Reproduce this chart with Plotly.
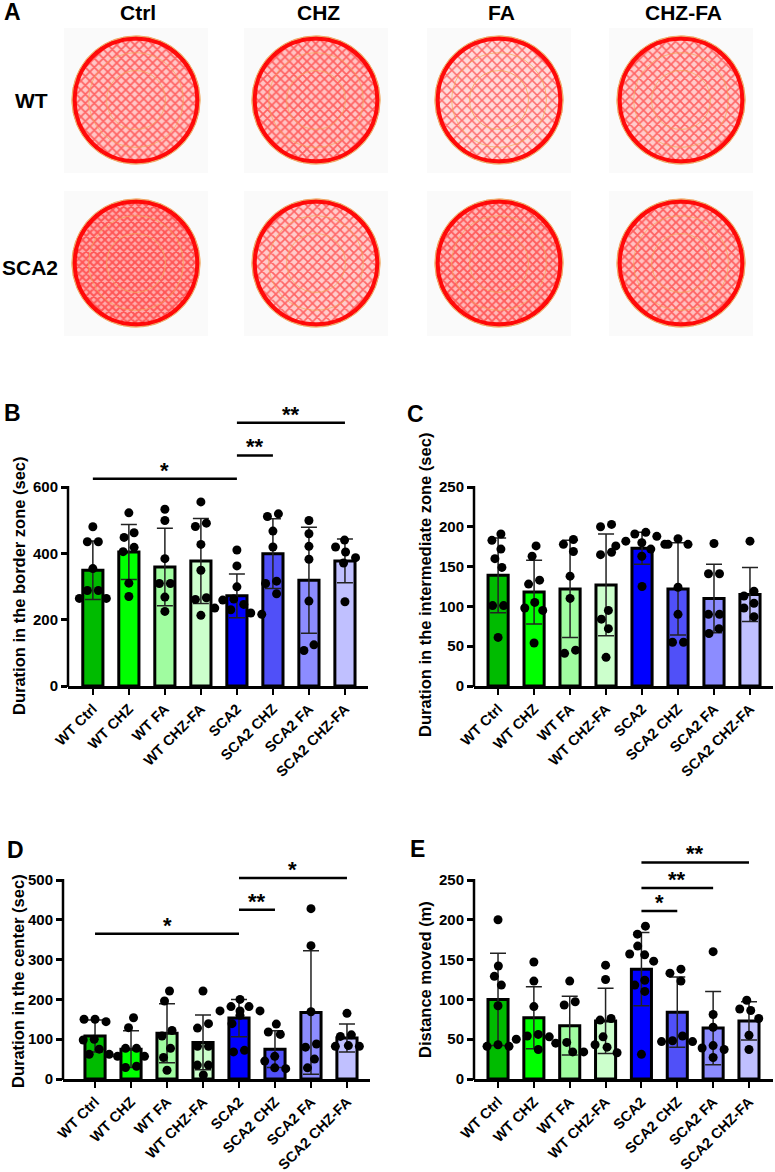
import numpy as np
import plotly.graph_objects as go

W, H = 775, 1172
FONT = "Liberation Sans"

# ---------------- data ----------------
groups = ["WT Ctrl", "WT CHZ", "WT FA", "WT CHZ-FA",
          "SCA2", "SCA2 CHZ", "SCA2 FA", "SCA2 CHZ-FA"]
bar_colors = ["#00bb00", "#00ff00", "#a0fca0", "#ccffcc",
              "#0000ff", "#5050f8", "#8c8cff", "#c0c0ff"]

# B: duration in the border zone (sec)
border_mean = [349, 404, 359, 377, 272, 399, 319, 377]
border_sd = [88, 83, 117, 128, 66, 105, 160, 66]
border_pts = [
    [480, 435, 435, 354, 288, 288, 264, 264],
    [522, 462, 448, 418, 405, 310, 270],
    [533, 499, 384, 309, 309, 268, 225],
    [555, 491, 481, 427, 349, 266, 261, 213],
    [410, 362, 299, 262, 259, 246, 235, 230, 220, 216],
    [519, 511, 467, 419, 316, 309, 278],
    [499, 459, 421, 382, 256, 124, 107],
    [440, 419, 404, 387, 371, 254],
]
border_ticks = [0, 200, 400, 600]
border_sig = [(0, 4, 625, "*"), (4, 5, 695, "**"), (4, 7, 794, "**")]

# C: duration in the intermediate zone (sec)
inter_mean = [139, 118, 122, 127, 173, 122, 110, 115]
inter_sd = [47, 40, 61, 64, 20, 58, 43, 34]
inter_pts = [
    [191, 183, 172, 160, 149, 101, 101, 61],
    [176, 163, 133, 128, 105, 98, 95, 54],
    [184, 178, 169, 138, 110, 45, 41],
    [203, 200, 168, 165, 95, 84, 72, 36],
    [193, 191, 188, 182, 180, 178, 176, 172, 163, 125],
    [185, 178, 178, 124, 90, 55, 55],
    [179, 141, 141, 90, 90, 72, 66],
    [182, 119, 113, 104, 98, 87],
]
inter_ticks = [0, 50, 100, 150, 200, 250]
inter_sig = []

# D: duration in the center (sec)
center_mean = [108, 75, 115, 92, 153, 75, 167, 103]
center_sd = [40, 46, 74, 69, 47, 46, 155, 35]
center_pts = [
    [150, 150, 144, 100, 98, 75, 62, 62],
    [154, 129, 77, 77, 57, 57, 32, 29],
    [221, 196, 122, 108, 77, 54, 22],
    [221, 139, 128, 82, 82, 35, 35, 10],
    [200, 182, 182, 171, 171, 171, 160, 139, 72, 68],
    [138, 118, 112, 57, 45, 28, 26],
    [428, 335, 169, 88, 80, 50, 28],
    [165, 111, 107, 84, 82, 82],
]
center_ticks = [0, 100, 200, 300, 400, 500]
center_sig = [(0, 4, 365, "*"), (4, 5, 425, "**"), (4, 7, 505, "*")]

# E: distance moved (m)
dist_mean = [100, 77, 67, 73, 138, 84, 64, 73]
dist_sd = [58, 39, 37, 41, 46, 44, 46, 24]
dist_pts = [
    [200, 142, 129, 118, 92, 43, 41, 41],
    [147, 123, 91, 56, 54, 53, 50, 37],
    [123, 97, 93, 46, 45, 34, 34],
    [143, 125, 76, 74, 53, 43, 40, 33],
    [192, 182, 167, 157, 156, 148, 124, 118, 110, 31],
    [138, 133, 123, 54, 48, 47, 47],
    [160, 81, 65, 42, 39, 37, 27],
    [99, 88, 86, 76, 55, 37],
]
dist_ticks = [0, 50, 100, 150, 200, 250]
dist_sig = [(4, 5, 211, "*"), (4, 6, 240, "**"), (4, 7, 272, "**")]

# A: open-field track plots
arena_cols = ["Ctrl", "CHZ", "FA", "CHZ-FA"]
arena_rows = ["WT", "SCA2"]
track_density = [[0.55, 0.6, 0.3, 0.5],
                 [0.9, 0.5, 0.75, 0.65]]

# ---------------- helpers ----------------
def px2paper(x, y):
    return x / W, 1 - y / H


def swarm(values, sy, sx, diam=11.0):
    """GraphPad-like scatter: spread points that would overlap."""
    ys = [v * sy for v in values]
    order = sorted(range(len(values)), key=lambda i: -values[i])
    cands = sorted(range(-30, 31), key=lambda k: (abs(k), k))
    placed, xs = [], [0.0] * len(values)
    for i in order:
        for k in cands:
            if all((k - px) ** 2 + (ys[i] - py) ** 2 >= diam ** 2 for px, py in placed):
                xs[i] = k
                placed.append((k, ys[i]))
                break
    chains, cur = [], [order[0]]
    for a, b in zip(order, order[1:]):
        if ys[a] - ys[b] < diam:
            cur.append(b)
        else:
            chains.append(cur)
            cur = [b]
    chains.append(cur)
    for c in chains:
        m = sum(xs[i] for i in c) / len(c)
        for i in c:
            xs[i] -= m
    return [x / sx for x in xs]


fig = go.Figure()
shapes, annots = [], []
layout_axes = {}

bold = dict(family=FONT, color="black", weight="bold")

# ---------------- panels B-E ----------------
panels = [
    dict(ax="", letter="B", title="Duration in the border zone (sec)",
         means=border_mean, sds=border_sd, pts=border_pts, ticks=border_ticks, sig=border_sig,
         left=68, right=368, zero=686, top=487, xr=(-0.69, 7.64), ymax=810,
         let_xy=(12, 413), tit_xy=(19, 586)),
    dict(ax="2", letter="C", title="Duration in the intermediate zone (sec)",
         means=inter_mean, sds=inter_sd, pts=inter_pts, ticks=inter_ticks, sig=inter_sig,
         left=474, right=773, zero=686, top=487, xr=(-0.67, 7.64), ymax=253,
         let_xy=(415, 414), tit_xy=(425, 585)),
    dict(ax="3", letter="D", title="Duration in the center (sec)",
         means=center_mean, sds=center_sd, pts=center_pts, ticks=center_ticks, sig=center_sig,
         left=63, right=370, zero=1079, top=880, xr=(-0.89, 7.64), ymax=525,
         let_xy=(15, 850), tit_xy=(18, 981)),
    dict(ax="4", letter="E", title="Distance moved (m)",
         means=dist_mean, sds=dist_sd, pts=dist_pts, ticks=dist_ticks, sig=dist_sig,
         left=474, right=773, zero=1079, top=880, xr=(-0.67, 7.67), ymax=285,
         let_xy=(418, 849), tit_xy=(425, 979)),
]

for p in panels:
    xa, ya = "x" + p["ax"], "y" + p["ax"]
    sy = (p["zero"] - p["top"]) / p["ticks"][-1]
    sx = (p["right"] - p["left"]) / (p["xr"][1] - p["xr"][0])
    top_px = p["zero"] - p["ymax"] * sy
    xdom = [p["left"] / W, p["right"] / W]
    ydom = [1 - p["zero"] / H, 1 - top_px / H]

    fig.add_trace(go.Bar(
        x=list(range(len(groups))), y=p["means"], width=0.56,
        marker=dict(color=bar_colors, line=dict(color="black", width=3)),
        error_y=dict(type="data", array=p["sds"], visible=True,
                     color="#222222", thickness=1.5, width=8),
        xaxis=xa, yaxis=ya, showlegend=False, hoverinfo="y"))

    px_, py_ = [], []
    for gi, vals in enumerate(p["pts"]):
        offs = swarm(vals, sy, sx)
        px_ += [gi + o for o in offs]
        py_ += vals
    fig.add_trace(go.Scatter(
        x=px_, y=py_, mode="markers",
        marker=dict(color="black", size=9),
        xaxis=xa, yaxis=ya, showlegend=False, cliponaxis=False))

    for (i, j, v, star) in p["sig"]:
        shapes.append(dict(type="line", xref=xa, yref=ya, x0=i, x1=j, y0=v, y1=v,
                           line=dict(color="black", width=2.5)))
        annots.append(dict(xref=xa, yref=ya, x=(i + j) / 2, y=v, text=star,
                           showarrow=False, yanchor="bottom", yshift=-6,
                           font=dict(size=22, **bold)))

    # y axis line only up to the last tick
    x0p, y0p = px2paper(p["left"], p["zero"] + 1)
    _, y1p = px2paper(p["left"], p["top"] - 1)
    shapes.append(dict(type="line", xref="paper", yref="paper",
                       x0=x0p, x1=x0p, y0=y0p, y1=y1p,
                       line=dict(color="black", width=2.5)))

    lx, ly = px2paper(*p["let_xy"])
    annots.append(dict(xref="paper", yref="paper", x=lx, y=ly, text=p["letter"],
                       showarrow=False, xanchor="center", yanchor="middle",
                       font=dict(size=23, **bold)))
    tx, ty = px2paper(*p["tit_xy"])
    annots.append(dict(xref="paper", yref="paper", x=tx, y=ty, text=p["title"],
                       textangle=-90, showarrow=False, xanchor="center", yanchor="middle",
                       font=dict(size=16.5, **bold)))

    layout_axes["xaxis" + p["ax"]] = dict(
        domain=xdom, range=list(p["xr"]), anchor=ya, automargin=False,
        tickvals=list(range(len(groups))), ticktext=groups, tickangle=-45,
        ticks="outside", ticklen=6, tickwidth=2, tickcolor="black",
        showline=True, linewidth=2.5, linecolor="black",
        showgrid=False, zeroline=False,
        tickfont=dict(size=14.5, **bold))
    layout_axes["yaxis" + p["ax"]] = dict(
        domain=ydom, range=[0, p["ymax"]], anchor=xa, automargin=False,
        tickvals=p["ticks"], ticks="outside", ticklen=6, tickwidth=2.5, tickcolor="black",
        showline=False, showgrid=False, zeroline=False,
        tickfont=dict(size=15, **bold))

# ---------------- panel A ----------------
col_cx = [136, 316, 499, 681]
row_cy = [100, 263]
R = 64
theta = np.linspace(0, 2 * np.pi, 241)
for ri, row in enumerate(arena_rows):
    for ci, col in enumerate(arena_cols):
        cx, cy = col_cx[ci], row_cy[ri]
        d = track_density[ri][ci]
        shapes.append(dict(type="rect", xref="x5", yref="y5", layer="below",
                           x0=cx - 72, x1=cx + 72, y0=cy - 72, y1=cy + 73,
                           fillcolor="#fafafa", line=dict(width=0)))
        fig.add_trace(go.Scatter(
            x=cx + R * np.cos(theta), y=cy + R * np.sin(theta),
            mode="lines", fill="toself", fillcolor="white",
            fillpattern=dict(shape="x", fgcolor="#ff0000", bgcolor="#ffffff",
                             size=8 - 3 * d, solidity=0.25 + 0.4 * d),
            line=dict(color="#f0b070", width=1.2),
            xaxis="x5", yaxis="y5", showlegend=False, hoverinfo="skip"))
        fig.add_trace(go.Scatter(
            x=cx + R * 0.93 * np.cos(theta), y=cy + R * 0.93 * np.sin(theta),
            mode="lines", fill="toself", fillcolor="rgba(255,0,0,%.2f)" % (0.05 + 0.3 * d),
            line=dict(color="rgba(255,0,0,0)", width=0),
            xaxis="x5", yaxis="y5", showlegend=False, hoverinfo="skip"))
        for frac in (0.74, 0.46):
            shapes.append(dict(type="circle", xref="x5", yref="y5",
                               x0=cx - R * frac, x1=cx + R * frac,
                               y0=cy - R * frac, y1=cy + R * frac,
                               line=dict(color="rgba(240,170,90,0.7)", width=1)))
        shapes.append(dict(type="circle", xref="x5", yref="y5",
                           x0=cx - R + 2.5, x1=cx + R - 2.5, y0=cy - R + 2.5, y1=cy + R - 2.5,
                           line=dict(color="rgba(255,0,0,0.95)", width=4.5)))
        shapes.append(dict(type="circle", xref="x5", yref="y5",
                           x0=cx - R, x1=cx + R, y0=cy - R, y1=cy + R,
                           line=dict(color="#f0b070", width=1)))

for ci, col in enumerate(arena_cols):
    x, y = px2paper(col_cx[ci] + 2, 13)
    annots.append(dict(xref="paper", yref="paper", x=x, y=y, text=col, showarrow=False,
                       xanchor="center", yanchor="middle", font=dict(size=21, **bold)))
row_lab_x = [31, 30]
row_lab_y = [100, 267]
for ri, row in enumerate(arena_rows):
    x, y = px2paper(row_lab_x[ri], row_lab_y[ri])
    annots.append(dict(xref="paper", yref="paper", x=x, y=y, text=row, showarrow=False,
                       xanchor="center", yanchor="middle", font=dict(size=21, **bold)))
x, y = px2paper(12, 12)
annots.append(dict(xref="paper", yref="paper", x=x, y=y, text="A", showarrow=False,
                   xanchor="center", yanchor="middle", font=dict(size=23, **bold)))

layout_axes["xaxis5"] = dict(domain=[0, 1], range=[0, W], visible=False, anchor="y5",
                             automargin=False)
layout_axes["yaxis5"] = dict(domain=[1 - 360 / H, 1], range=[360, 0], visible=False,
                             anchor="x5", automargin=False)

fig.update_layout(
    width=W, height=H, margin=dict(l=0, r=0, t=0, b=0),
    paper_bgcolor="white", plot_bgcolor="white",
    font=dict(family=FONT, color="black"),
    showlegend=False, shapes=shapes, annotations=annots,
    **layout_axes)

fig.write_html("out.html", config={"displayModeBar": False},
               post_script="document.body.style.margin='0px';")
